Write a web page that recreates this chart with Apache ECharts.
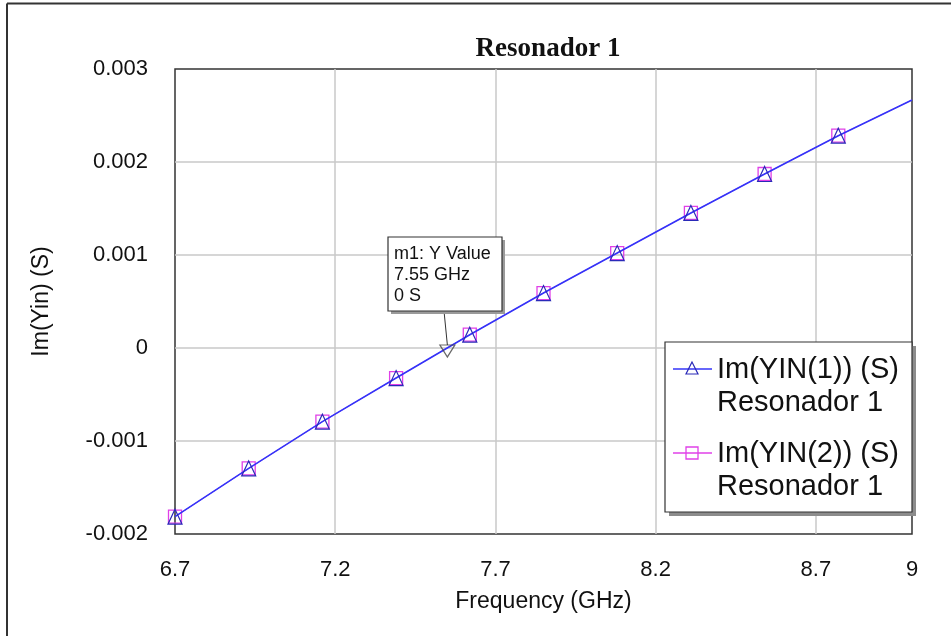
<!DOCTYPE html>
<html>
<head>
<meta charset="utf-8">
<script src="https://cdn.jsdelivr.net/npm/echarts@6/dist/echarts.min.js"></script>
<style>
html,body{margin:0;padding:0;background:#fff;}
#chart{width:951px;height:636px;}
</style>
</head>
<body>
<div id="chart"></div>
<script>
// Frequency points (GHz) of the traces; markers drawn on all but the last point
const freq = [6.7, 6.93, 7.16, 7.39, 7.62, 7.85, 8.08, 8.31, 8.54, 8.77, 9.0];
const imYin1 = [-0.001814, -0.001295, -0.000792, -0.000323, 0.000143, 0.000591, 0.001021, 0.001452, 0.001871, 0.002283, 0.002667];
const imYin2 = [-0.001814, -0.001295, -0.000792, -0.000323, 0.000143, 0.000591, 0.001021, 0.001452, 0.001871, 0.002283, 0.002667];
const markerCount = 10;
const xTicks = [6.7, 7.2, 7.7, 8.2, 8.7, 9];
const yTicks = [-0.002, -0.001, 0, 0.001, 0.002, 0.003];
const seriesNames = ['Im(YIN(1)) (S)', 'Im(YIN(2)) (S)'];
const seriesSub = 'Resonador 1';
const m1 = {name: 'm1', freq: 7.55, value: 0, label: ['m1: Y Value', '7.55 GHz', '0 S']};

const chart = echarts.init(document.getElementById('chart'), null, {renderer: 'canvas'});
const FONT = '"Liberation Sans", Arial, sans-serif';
const BLUE = '#3434f8';
const TRI = '#2a2ab8';
const MAG = '#e040e8';

function pts(vals){ return freq.map((f,i)=>[f, vals[i]]); }
function symFn(shape){ return function(v, p){ return p.dataIndex < markerCount ? shape : 'none'; }; }
function yFmt(v){
  if (Math.abs(v) < 1e-9) return '0';
  return v.toFixed(3);
}

const option = {
  animation: false,
  backgroundColor: '#fff',
  title: {
    text: 'Resonador 1',
    left: 543, top: 31, textAlign: 'center',
    textStyle: {fontFamily: '"Liberation Serif", "Times New Roman", serif', fontWeight: 'bold', fontSize: 27, color: '#111'}
  },
  grid: {left: 175, right: 39, top: 69, bottom: 102, show: true, borderColor: '#333', borderWidth: 1.5, backgroundColor: 'transparent'},
  xAxis: {
    type: 'value', min: 6.7, max: 9,
    name: 'Frequency (GHz)', nameLocation: 'middle', nameGap: 56,
    nameTextStyle: {fontFamily: FONT, fontSize: 23, color: '#111'},
    axisLine: {show: false},
    axisTick: {show: false, customValues: xTicks},
    axisLabel: {customValues: xTicks, margin: 25, fontFamily: FONT, fontSize: 22, color: '#111',
      formatter: v => String(Math.round(v*10)/10)},
    splitLine: {show: true, showMinLine: false, showMaxLine: false, lineStyle: {color: '#c8c8c8', width: 1.5}}
  },
  yAxis: {
    type: 'value', min: -0.002, max: 0.003, interval: 0.001,
    name: 'Im(Yin) (S)', nameLocation: 'middle', nameGap: 122, nameRotate: 90,
    nameTextStyle: {fontFamily: FONT, fontSize: 23, color: '#111'},
    axisLine: {show: false},
    axisTick: {show: false},
    axisLabel: {margin: 27, fontFamily: FONT, fontSize: 22, color: '#111', formatter: yFmt},
    splitLine: {show: true, showMinLine: false, showMaxLine: false, lineStyle: {color: '#c8c8c8', width: 1.5}}
  },
  series: [
    {
      name: seriesNames[1], type: 'line', data: pts(imYin2),
      symbol: symFn('rect'), symbolSize: 13, showAllSymbol: true,
      lineStyle: {color: MAG, width: 1},
      itemStyle: {color: 'transparent', borderColor: MAG, borderWidth: 1.3},
      z: 2
    },
    {
      name: seriesNames[0], type: 'line', data: pts(imYin1),
      symbol: symFn('triangle'), symbolSize: [14, 15], showAllSymbol: true,
      lineStyle: {color: BLUE, width: 1.6},
      itemStyle: {color: 'transparent', borderColor: TRI, borderWidth: 1.2},
      z: 3
    },
    {
      name: m1.name, type: 'scatter', data: [[m1.freq, m1.value]],
      symbol: 'triangle', symbolRotate: 180, symbolSize: [15, 12], symbolOffset: [0, 3],
      itemStyle: {color: 'transparent', borderColor: '#444', borderWidth: 1.2},
      z: 4
    }
  ]
};
chart.setOption(option);

// annotation and legend (layout graphics)
const tip = chart.convertToPixel({gridIndex: 0}, [m1.freq, m1.value]);
const box = {x: 388, y: 237, w: 114, h: 74};
const leg = {x: 665, y: 342, w: 247, h: 170};
const textStyleBase = {fontFamily: FONT, fill: '#111'};

const graphics = [
  // outer frame
  {type: 'line', shape: {x1: 7, y1: 3.5, x2: 951, y2: 3.5}, style: {stroke: '#333', lineWidth: 2}, z: 100},
  {type: 'line', shape: {x1: 7, y1: 3.5, x2: 7, y2: 636}, style: {stroke: '#333', lineWidth: 2}, z: 100},
  // marker annotation
  {type: 'line', shape: {x1: box.x + box.w/2 - 1, y1: box.y + box.h, x2: tip[0], y2: tip[1] - 3}, style: {stroke: '#333', lineWidth: 1}, z: 100},
  {type: 'rect', shape: {x: box.x + 3, y: box.y + 3, width: box.w, height: box.h}, style: {fill: '#9a9a9a'}, z: 100},
  {type: 'rect', shape: {x: box.x, y: box.y, width: box.w, height: box.h}, style: {fill: '#fff', stroke: '#333', lineWidth: 1.2}, z: 101},
  {type: 'text', x: box.x + 6, y: box.y + 17, style: Object.assign({text: m1.label[0], fontSize: 18, verticalAlign: 'middle'}, textStyleBase), z: 102},
  {type: 'text', x: box.x + 6, y: box.y + 38, style: Object.assign({text: m1.label[1], fontSize: 18, verticalAlign: 'middle'}, textStyleBase), z: 102},
  {type: 'text', x: box.x + 6, y: box.y + 59, style: Object.assign({text: m1.label[2], fontSize: 18, verticalAlign: 'middle'}, textStyleBase), z: 102},
  // legend box
  {type: 'rect', shape: {x: leg.x + 4, y: leg.y + 4, width: leg.w, height: leg.h}, style: {fill: '#8c8c8c'}, z: 100},
  {type: 'rect', shape: {x: leg.x, y: leg.y, width: leg.w, height: leg.h}, style: {fill: '#fff', stroke: '#333', lineWidth: 1.2}, z: 101},
  {type: 'line', shape: {x1: 673, y1: 369, x2: 712, y2: 369}, style: {stroke: BLUE, lineWidth: 1.4}, z: 102},
  {type: 'polygon', shape: {points: [[692, 362], [686, 374], [698, 374]]}, style: {fill: 'none', stroke: TRI, lineWidth: 1.2}, z: 103},
  {type: 'line', shape: {x1: 673, y1: 453, x2: 712, y2: 453}, style: {stroke: MAG, lineWidth: 1.4}, z: 102},
  {type: 'rect', shape: {x: 686, y: 447, width: 12, height: 12}, style: {fill: 'none', stroke: MAG, lineWidth: 1.3}, z: 103},
  {type: 'text', x: 717, y: 370, style: Object.assign({text: seriesNames[0], fontSize: 29, verticalAlign: 'middle'}, textStyleBase), z: 102},
  {type: 'text', x: 717, y: 403, style: Object.assign({text: seriesSub, fontSize: 29, verticalAlign: 'middle'}, textStyleBase), z: 102},
  {type: 'text', x: 717, y: 454, style: Object.assign({text: seriesNames[1], fontSize: 29, verticalAlign: 'middle'}, textStyleBase), z: 102},
  {type: 'text', x: 717, y: 487, style: Object.assign({text: seriesSub, fontSize: 29, verticalAlign: 'middle'}, textStyleBase), z: 102}
];
chart.setOption({graphic: graphics});
</script>
</body>
</html>
